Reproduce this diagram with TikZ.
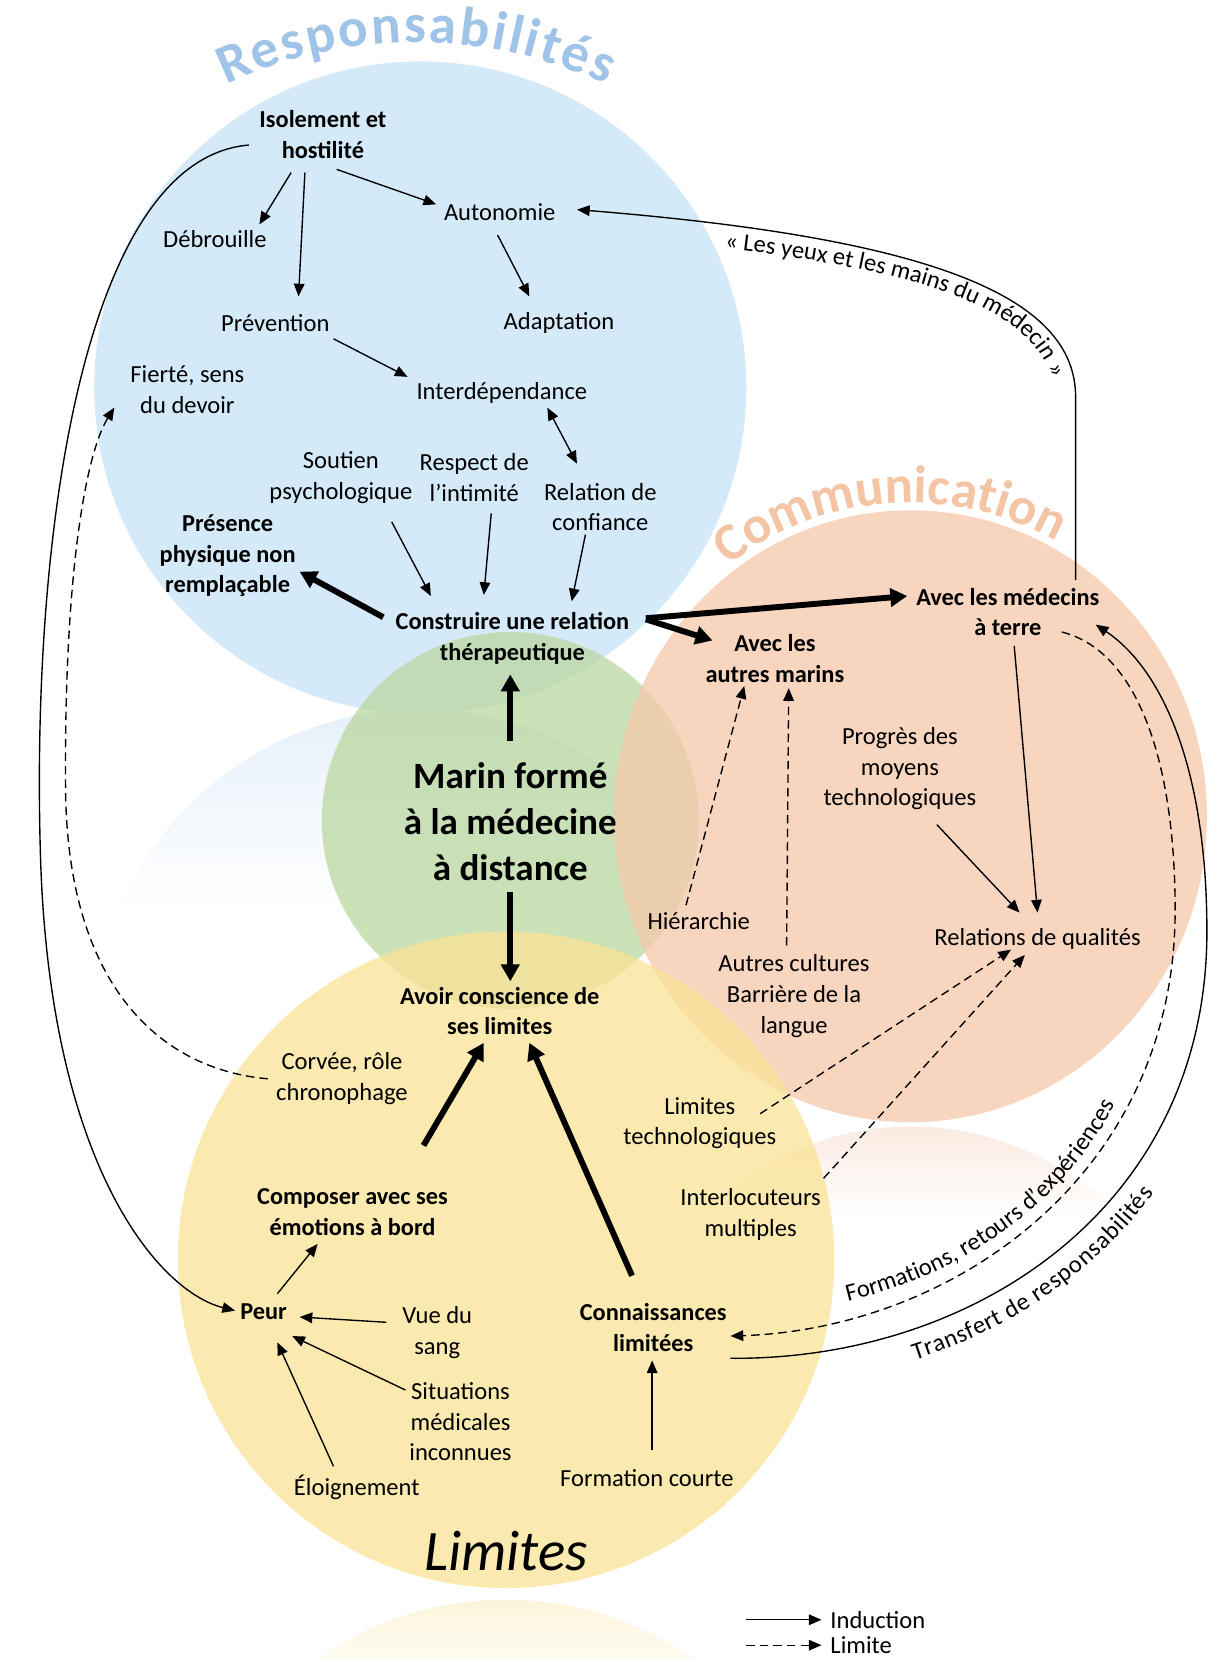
\documentclass[tikz,border=0pt]{standalone}
\usepackage{fontspec}
\setmainfont{Carlito}
\newfontfamily\spacedbold{Carlito}[WordSpace=0.2]
\usetikzlibrary{arrows.meta,decorations.text,calc}

\definecolor{cblue}{RGB}{200,228,248}
\definecolor{cgreen}{RGB}{186,215,160}
\definecolor{corange}{RGB}{245,200,170}
\definecolor{cyellow}{RGB}{250,227,150}
\definecolor{tblue}{RGB}{160,196,232}
\definecolor{torange}{RGB}{243,197,165}
\definecolor{rblue}{RGB}{230,240,250}
\definecolor{rorange}{RGB}{250,234,224}
\definecolor{ryellow}{RGB}{252,244,218}

\newcommand\fsn{\fontsize{11.6}{14.5}\selectfont}
\newcommand\fsb{\fontsize{11.5}{14.5}\selectfont\bfseries}

\begin{document}
\begin{tikzpicture}[x=0.5pt,y=-0.5pt,
  txt/.style={align=center,font=\fsn,inner sep=1pt},
  btxt/.style={align=center,font=\fsb,inner sep=1pt},
  bigtxt/.style={align=center,font=\fontsize{17.5}{21.75}\selectfont\bfseries,inner sep=1pt},
  limtxt/.style={font=\fontsize{27}{30}\selectfont\itshape,inner sep=1pt},
  thinarr/.style={line width=0.65pt,-{Triangle[length=6pt,width=5pt]}},
  dasharr/.style={thinarr,dash pattern=on 4pt off 2.4pt},
  dbarr/.style={line width=0.65pt,{Triangle[length=6pt,width=5pt]}-{Triangle[length=6pt,width=5pt]}},
  thickarr/.style={line width=2.8pt,-{Triangle[length=8pt,width=8.5pt]}},
  circ/.style={fill opacity=0.75}
]
\useasboundingbox (0,0) rectangle (1144,1568);
\fill[white] (0,0) rectangle (1144,1568);

% faint reflections
\begin{scope}
  \clip (397,978) circle[radius=308];
  \shade[top color=rblue,bottom color=white] (80,668) rectangle (720,860);
\end{scope}
\begin{scope}
  \clip (860,1353) ellipse[x radius=280,y radius=289];
  \shade[top color=rorange,bottom color=white] (560,1060) rectangle (1160,1150);
\end{scope}
\begin{scope}
  \clip (478,1821) circle[radius=310];
  \shade[top color=ryellow,bottom color=white] (150,1508) rectangle (800,1600);
\end{scope}

% circles
\fill[cblue,circ] (397,366) circle[radius=308];
\fill[cgreen,circ] (482,775) circle[radius=178];
\fill[corange,circ] (860,771) ellipse[x radius=280,y radius=289];
\fill[cyellow,circ] (478,1190) circle[radius=310];

% arc titles
\path[decorate,decoration={text along path,text align=center,text color=tblue,
  text={|\spacedbold\bfseries\fontsize{26}{26}\selectfont|R e s p o n s a b i l i t é s}}]
  (393,460) ++(236:420) arc[start angle=236,end angle=304,radius=420];
\path[decorate,decoration={text along path,text align=center,text color=torange,
  text={|\bfseries\fontsize{25}{25}\selectfont|Communication}}]
  (860,771) ++(220:287 and 296) arc[start angle=220,end angle=312,x radius=287,y radius=296];

% nodes
\node[btxt] (isol) at (305,127) {Isolement et\\hostilité};
\node[txt] (debr) at (203,226) {Débrouille};
\node[txt] (auto) at (472,200) {Autonomie};
\node[txt] (prev) at (260,305) {Prévention};
\node[txt] (adap) at (528,305) {Adaptation};
\node[txt] (fier) at (177,368) {Fierté, sens\\du devoir};
\node[txt] (inter) at (474,371) {Interdépendance};
\node[txt] (sout) at (322,451) {Soutien\\psychologique};
\node[txt] (resp) at (448,451) {Respect de\\l’intimité};
\node[txt] (rela) at (567,479) {Relation de\\confiance};
\node[btxt] (pres) at (215,525) {Présence\\physique non\\remplaçable};
\node[btxt] (constr) at (484,603) {Construire une relation\\thérapeutique};
\node[btxt] (medt) at (952,578) {Avec les médecins\\à terre};
\node[btxt] (marins) at (732,622) {Avec les\\autres marins};
\node[bigtxt] (marin) at (482,776) {Marin formé\\à la médecine\\à distance};
\node[txt] (progr) at (850,726) {Progrès des\\moyens\\technologiques};
\node[txt] (hier) at (660,870) {Hiérarchie};
\node[txt] (relq) at (980,887) {Relations de qualités};
\node[txt] (autres) at (750,941) {Autres cultures\\Barrière de la\\langue};
\node[btxt] (avoir) at (472,955) {Avoir conscience de\\ses limites};
\node[txt] (corv) at (323,1019) {Corvée, rôle\\chronophage};
\node[txt] (limt) at (661,1061) {Limites\\technologiques};
\node[txt] (interl) at (709,1147) {Interlocuteurs\\multiples};
\node[btxt] (compo) at (333,1145) {Composer avec ses\\émotions à bord};
\node[btxt] (peur) at (249,1239) {Peur};
\node[txt] (vue) at (413,1259) {Vue du\\sang};
\node[btxt] (conn) at (617,1254) {Connaissances\\limitées};
\node[txt] (situ) at (435,1343) {Situations\\médicales\\inconnues};
\node[txt] (eloi) at (337,1405) {Éloignement};
\node[txt] (form) at (611,1396) {Formation courte};
\node[limtxt] (limites) at (478,1465) {Limites};

% straight arrows
\draw[thinarr] ($(isol)+(-30,36)$) -- ($(debr)+(42,-14)$);
\draw[thinarr] ($(isol)+(-17,36)$) -- ($(prev)+(22,-25)$);
\draw[thinarr] ($(isol)+(13,33)$) -- ($(auto)+(-60,-7)$);
\draw[thinarr] ($(auto)+(-2,22)$) -- ($(adap)+(-28,-25)$);
\draw[thinarr] ($(prev)+(55,15)$) -- ($(inter)+(-89,-15)$);
\draw[dbarr] ($(inter)+(43,14)$) -- ($(rela)+(-22,-41)$);
\draw[thinarr] ($(sout)+(48,42)$) -- ($(constr)+(-77,-40)$);
\draw[thinarr] ($(resp)+(16,34)$) -- ($(constr)+(-27,-41)$);
\draw[thinarr] ($(rela)+(-14,26)$) -- ($(constr)+(56,-35)$);
\draw[thickarr] ($(constr)+(-122,-20)$) -- ($(pres)+(68,15)$);
\draw[thickarr] ($(constr)+(126,-19)$) -- ($(medt)+(-95,-15)$);
\draw[thickarr] ($(constr)+(126,-18)$) -- ($(marins)+(-59,-17)$);
\draw[thickarr] ($(marin)+(0,-76)$) -- ($(constr)+(-2,34)$);
\draw[thickarr] ($(marin)+(0,67)$) -- ($(avoir)+(10,-28)$);
\draw[dasharr] ($(hier)+(-12,-15)$) -- ($(marins)+(-29,26)$);
\draw[dasharr] ($(autres)+(-7,-48)$) -- ($(marins)+(13,28)$);
\draw[thinarr] ($(progr)+(35,53)$) -- ($(relq)+(-17,-25)$);
\draw[thinarr] ($(medt)+(6,32)$) -- ($(relq)+(0,-25)$);
\draw[dasharr] ($(limt)+(57,-9)$) -- ($(relq)+(-25,10)$);
\draw[dasharr] ($(interl)+(69,-34)$) -- ($(relq)+(-12,15)$);
\draw[thickarr] ($(compo)+(67,-63)$) -- ($(avoir)+(-15,30)$);
\draw[thickarr] ($(conn)+(-20,-49)$) -- ($(avoir)+(28,30)$);
\draw[thinarr] ($(peur)+(13,-17)$) -- ($(compo)+(-33,30)$);
\draw[thinarr] ($(vue)+(-48,-10)$) -- ($(peur)+(34,5)$);
\draw[thinarr] ($(situ)+(-52,-30)$) -- ($(peur)+(27,23)$);
\draw[thinarr] ($(eloi)+(-22,-20)$) -- ($(peur)+(13,29)$);
\draw[thinarr] ($(form)+(5,-26)$) -- ($(conn)+(-1,31)$);

% long curved connectors
\draw[thinarr] ($(isol)+(-70,10)$) .. controls (80,150) and (30,500) .. (38,800)
  .. controls (45,1100) and (150,1220) .. ($(peur)+(-27,-1)$);
\draw[dasharr] ($(corv)+(-70,0)$) .. controls (150,1010) and (65,930) .. (62,750)
  .. controls (60,550) and (80,430) .. ($(fier)+(-69,17)$);
\draw[thinarr] ($(medt)+(64,-30)$) -- ($(medt)+(64,-203)$)
  .. controls ($(medt)+(64,-298)$) and (880,225) .. ($(auto)+(73,-2)$);
\draw[dasharr] ($(medt)+(51,19)$) .. controls (1075,615) and (1110,720) .. (1110,860)
  .. controls (1110,1110) and (900,1255) .. ($(conn)+(73,8)$);
\draw[thinarr] ($(conn)+(73,29)$) .. controls (920,1285) and (1140,1140) .. (1140,880)
  .. controls (1140,720) and (1095,630) .. ($(medt)+(83,12)$);

% labels along curves
\path[decorate,decoration={text along path,text align={left indent=70pt},
  text={|\fsn|« Les yeux et les mains du médecin »}}]
  (545,222) .. controls (871,245) and (996,290) .. (996,380);
\path[decorate,decoration={text along path,text align={left indent=56pt},
  text={|\fsn|Formations, retours d’expériences}}]
  (690,1244) .. controls (900,1238) and (1082,1118) .. (1098,880);
\path[decorate,decoration={text along path,raise=-14pt,text align={left indent=84pt},
  text={|\fsn|Transfert de responsabilités}}]
  (690,1283) .. controls (920,1285) and (1140,1140) .. (1140,880);

% legend
\coordinate (lg1) at (705,1530);
\coordinate (lg2) at (705,1554);
\node[txt,anchor=west] (lind) at (782,1530) {Induction};
\node[txt,anchor=west] (llim) at (782,1554) {Limite};
\draw[thinarr] (lg1) -- ($(lind.west)+(-6,0)$);
\draw[dasharr] (lg2) -- ($(llim.west)+(-6,0)$);
\end{tikzpicture}
\end{document}
